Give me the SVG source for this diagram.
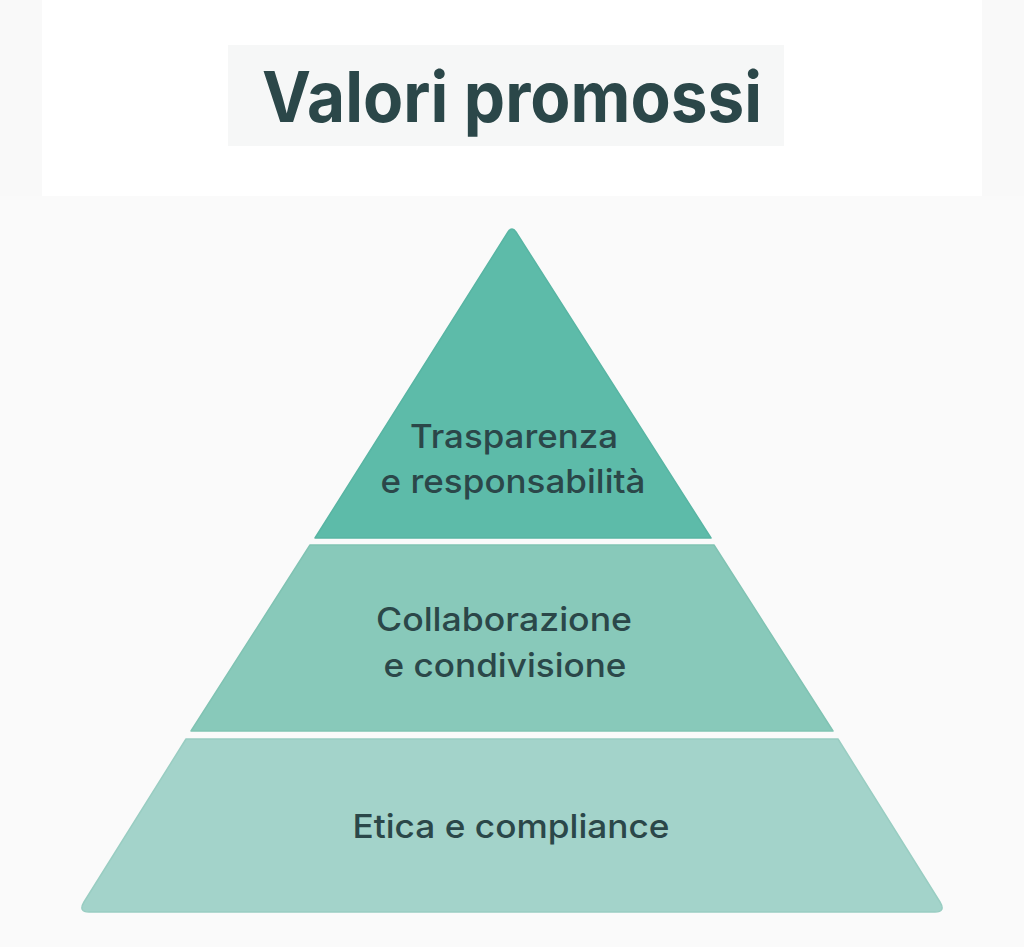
<svg xmlns="http://www.w3.org/2000/svg" width="1024" height="947" viewBox="0 0 1024 947">
  <style>
    .lbl { font-family: Inter, "Noto Sans", "Liberation Sans", sans-serif; font-weight: 500; font-size: 33px; fill: #2b4749; text-anchor: middle; }
    .title { font-family: Inter, "Noto Sans", "Liberation Sans", sans-serif; font-weight: 700; font-size: 70px; fill: #2b4749; text-anchor: middle; }
  </style>
  <rect x="0" y="0" width="1024" height="947" fill="#f9f9f9"/>
  <rect x="42" y="0" width="940" height="196" fill="#ffffff"/>
  <rect x="0" y="196" width="1024" height="751" fill="#fafafa"/>
  <g id="title">
    <rect x="228" y="45" width="556" height="101" fill="#f6f7f7"/>
    <text class="title" x="512" y="122" textLength="500" lengthAdjust="spacingAndGlyphs">Valori promossi</text>
  </g>
  <g id="tier-top">
    <path d="M508,232 Q512,226 516,232 L711,538 L315,538 Z" fill="#5dbba9" stroke="#58b5a3" stroke-width="1.5" stroke-linejoin="round"/>
    <text class="lbl" x="514" y="448" textLength="208" lengthAdjust="spacingAndGlyphs">Trasparenza</text>
    <text class="lbl" x="513" y="493" textLength="265" lengthAdjust="spacingAndGlyphs">e responsabilità</text>
  </g>
  <g id="tier-middle">
    <path d="M310,545 L714,545 L833,731 L191,731 Z" fill="#88c9ba" stroke="#80c3b3" stroke-width="1.5" stroke-linejoin="round"/>
    <text class="lbl" x="504" y="631" textLength="256" lengthAdjust="spacingAndGlyphs">Collaborazione</text>
    <text class="lbl" x="505" y="677" textLength="243" lengthAdjust="spacingAndGlyphs">e condivisione</text>
  </g>
  <g id="tier-bottom">
    <path d="M186,739 L838,739 L940,902 Q946,912 935,912 L89,912 Q78,912 84,902 Z" fill="#a3d3ca" stroke="#99cdc2" stroke-width="1.5" stroke-linejoin="round"/>
    <text class="lbl" x="511" y="838" textLength="317" lengthAdjust="spacingAndGlyphs">Etica e compliance</text>
  </g>
  <g id="connectors"></g>
</svg>
